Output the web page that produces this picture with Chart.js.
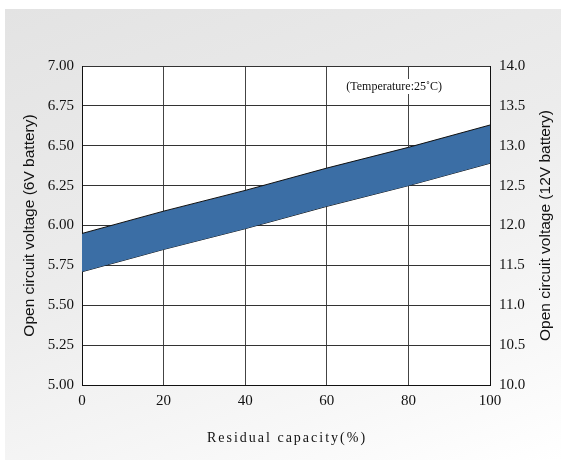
<!DOCTYPE html>
<html>
<head>
<meta charset="utf-8">
<script src="https://cdn.jsdelivr.net/npm/chart.js@4/dist/chart.umd.min.js"></script>
<style>
    html, body { margin: 0; padding: 0; background: #fff; }
    #wrap { position: relative; width: 561px; height: 460px; overflow: hidden; }
    #panel {
        position: absolute; left: 5px; top: 9px; right: 0; bottom: 0;
        background: linear-gradient(160deg, #e3e3e3 0%, #ececec 45%, #f6f6f6 75%, #ffffff 100%);
    }
    #chart { position: absolute; left: 0; top: 0; }
</style>
</head>
<body>
<div id="wrap">
    <div id="panel"></div>
    <canvas id="chart" width="561" height="460"></canvas>
</div>
<script>
// residual capacity (%) and open circuit voltage of a 6V battery
const capacity = [0, 20, 40, 60, 80, 100];
const upperVoltage = [5.95, 6.09, 6.22, 6.36, 6.49, 6.63];
const lowerVoltage = [5.71, 5.85, 5.98, 6.12, 6.25, 6.39];

const leftTitle = 'Open circuit voltage (6V battery)';
const rightTitle = 'Open circuit voltage (12V battery)';
const bottomTitle = 'Residual capacity(%)';
const noteText = '(Temperature:25˚C)';

const serif = '"Liberation Serif", "Times New Roman", serif';
const sans = '"Liberation Sans", Arial, sans-serif';

const titlesPlugin = {
    id: 'titles',
    beforeDraw(chart) {
        // white plot background, under the grid
        const { ctx, chartArea } = chart;
        ctx.save();
        ctx.fillStyle = '#fff';
        ctx.fillRect(chartArea.left, chartArea.top, chartArea.right - chartArea.left, chartArea.bottom - chartArea.top);
        ctx.restore();
    },
    afterDraw(chart) {
        const { ctx, chartArea } = chart;
        const midY = (chartArea.top + chartArea.bottom) / 2;
        const midX = (chartArea.left + chartArea.right) / 2;
        ctx.save();
        ctx.fillStyle = '#111';
        ctx.font = '15.5px ' + sans;
        ctx.textAlign = 'center';
        ctx.textBaseline = 'middle';

        ctx.save();
        ctx.translate(30, midY);
        ctx.rotate(-Math.PI / 2);
        ctx.fillText(leftTitle, 0, 0);
        ctx.restore();

        ctx.save();
        ctx.translate(546, midY);
        ctx.rotate(-Math.PI / 2);
        ctx.fillText(rightTitle, 0, 0);
        ctx.restore();

        ctx.font = '14px ' + serif;
        ctx.letterSpacing = '2px';
        ctx.fillText(bottomTitle, midX + 1, 438);
        ctx.letterSpacing = '0px';

        // note with a white box that hides the grid line behind it
        ctx.font = '12px ' + serif;
        const w = ctx.measureText(noteText).width;
        const nx = chart.scales.x.getPixelForValue(76.5);
        ctx.fillStyle = '#fff';
        ctx.fillRect(nx - w / 2 - 3, 79, w + 6, 15);
        ctx.fillStyle = '#111';
        ctx.fillText(noteText, nx, 87);
        ctx.restore();
    }
};

new Chart(document.getElementById('chart'), {
    type: 'line',
    data: {
        datasets: [
            {
                label: 'upper',
                data: capacity.map((c, i) => ({ x: c, y: upperVoltage[i] })),
                borderColor: '#111',
                borderWidth: 1,
                backgroundColor: '#3b6ea5',
                pointRadius: 0,
                fill: '+1',
                tension: 0
            },
            {
                label: 'lower',
                data: capacity.map((c, i) => ({ x: c, y: lowerVoltage[i] })),
                borderColor: '#111',
                borderWidth: 1,
                pointRadius: 0,
                fill: false,
                tension: 0
            }
        ]
    },
    options: {
        responsive: false,
        animation: false,
        layout: { padding: { top: 66, left: 0, right: 0, bottom: 0 } },
        plugins: {
            legend: { display: false },
            tooltip: { enabled: false },
            filler: { propagate: false }
        },
        scales: {
            x: {
                type: 'linear',
                min: 0,
                max: 100,
                ticks: { stepSize: 20, padding: 7, color: '#111', font: { family: serif, size: 15 }, maxRotation: 0 },
                grid: { color: '#444', lineWidth: 1, drawTicks: false },
                border: { color: '#111', width: 1 },
                afterFit(scale) { scale.height = 75; }
            },
            y: {
                position: 'left',
                min: 5,
                max: 7,
                ticks: { stepSize: 0.25, padding: 8, color: '#111', font: { family: serif, size: 15 }, callback: v => v.toFixed(2) },
                grid: { color: '#333', lineWidth: 1, drawTicks: false },
                border: { color: '#111', width: 1 },
                afterFit(scale) { scale.width = 82; }
            },
            y2: {
                position: 'right',
                min: 10,
                max: 14,
                ticks: { stepSize: 0.5, padding: 9, color: '#111', font: { family: serif, size: 15 }, callback: v => v.toFixed(1) },
                grid: { display: false, drawTicks: false },
                border: { color: '#111', width: 1 },
                afterFit(scale) { scale.width = 71; }
            }
        }
    },
    plugins: [titlesPlugin]
});
</script>
</body>
</html>
